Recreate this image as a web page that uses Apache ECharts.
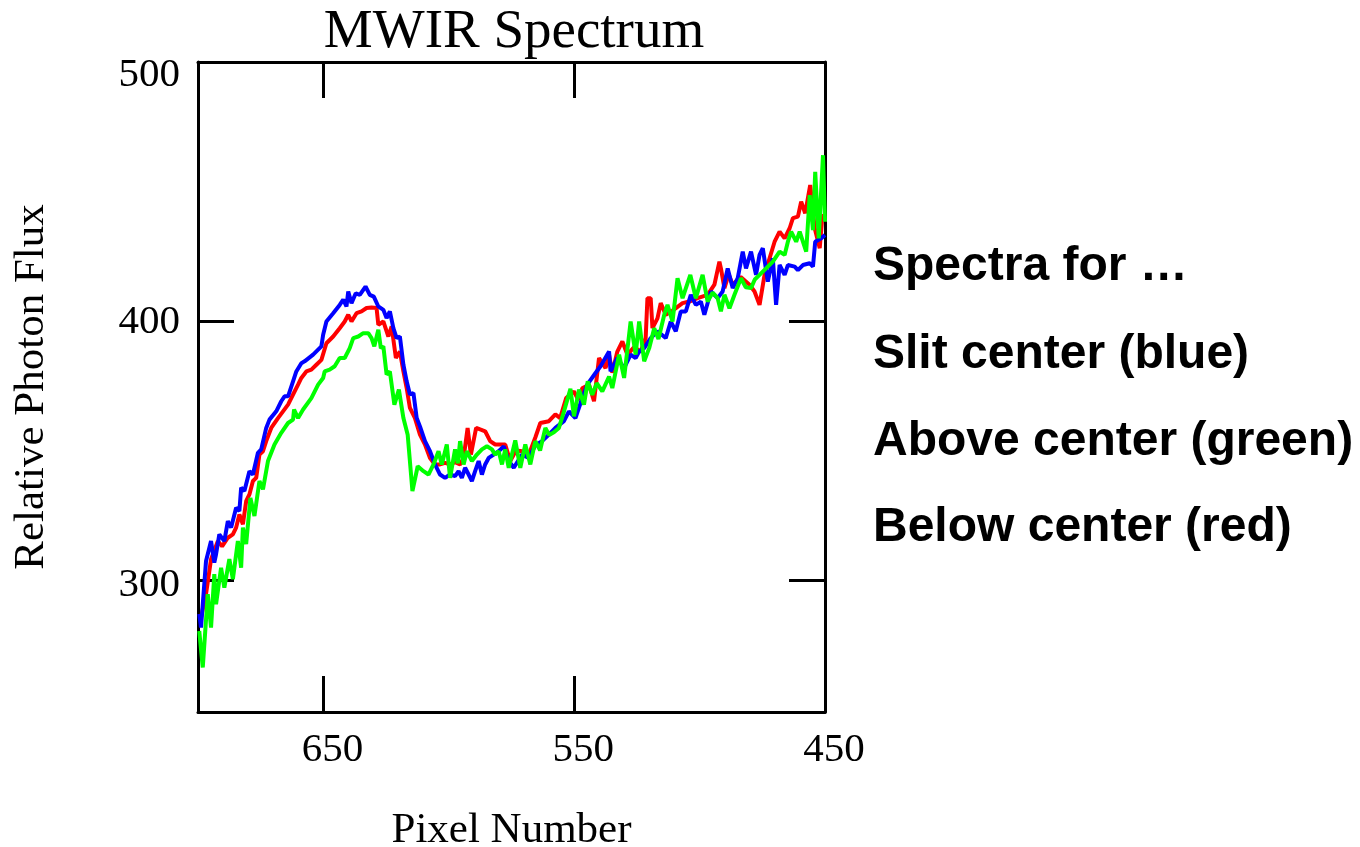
<!DOCTYPE html>
<html>
<head>
<meta charset="utf-8">
<style>
  html, body { margin: 0; padding: 0; background: #ffffff; }
  #chart { width: 1360px; height: 847px; }
</style>
<script src="https://cdn.jsdelivr.net/npm/echarts@6/dist/echarts.min.js"></script>
</head>
<body>
<div id="chart"></div>
<script>
// ---- Data (pixel number, relative photon flux) ----
const xTickValues = [650, 550, 450];
const yTickValues = [300, 400, 500];
const noteLines = ['Spectra for \u2026', 'Slit center (blue)', 'Above center (green)', 'Below center (red)'];

const blueX = [699.5,698.8,696.8,694.8,693.5,692.8,691.5,689.5,688.1,686.8,
  684.8,683.5,682.8,681.5,679.5,678.1,676.1,674.8,672.8,671.5,
  668.8,666.8,665.5,664.1,662.1,660.8,658.8,657.5,654.1,650.8,
  650.1,648.8,646.1,643.5,642.1,640.8,640.1,638.8,637.1,635.5,
  633.2,631.5,629.9,628.1,626.1,624.8,623.5,622.1,620.8,619.5,
  618.1,616.8,615.5,614.1,612.8,611.5,609.5,607.5,605.5,603.5,
  601.5,599.5,597.5,596.1,594.8,593.5,592.1,590.8,589.5,588.1,
  586.8,585.5,584.1,582.1,580.1,578.1,576.1,574.1,570.8,568.1,
  565.5,562.8,560.1,557.5,554.1,552.1,549.5,546.8,544.8,541.5,
  539.5,536.1,535.5,532.8,530.1,527.5,525.5,524.1,522.1,519.5,
  516.8,513.5,511.5,509.5,507.5,505.5,503.5,501.5,499.5,498.1,
  495.5,492.8,490.8,488.8,486.8,484.8,482.8,481.5,479.5,477.5,
  476.1,474.8,472.8,470.8,469.5,468.1,466.1,464.8,462.1,460.8,
  458.8,456.1,454.8,453.9,451.5,450];
const blueY = [286.8,281.6,307.3,315.0,306.7,309.9,317.6,315,322.7,320.2,
  327.9,326.6,335.6,334.3,342,340.7,349.1,350.4,358.7,361.9,
  365.1,369,370.9,370.9,376.7,380.5,383.7,384.4,387,390.2,
  394.7,399.8,403,406.2,408.2,405.6,411.4,406.9,410.7,410.1,
  413.3,410.1,409.4,405.6,404.3,401.1,403.7,397.2,393.4,394,
  383.1,376.7,371.6,372.2,362.5,359.3,353.6,349.7,344.6,340.7,
  339.4,340.7,340.1,342,339.4,343.3,340.7,338.2,342,345.9,
  340.7,344.6,347.1,348.4,349.7,351.6,345.9,343.3,348.4,347.1,
  352,353.6,356.1,358.7,361.3,365.1,362.5,370.2,375.4,379.9,
  382.5,388.2,380.5,385.7,381.8,387,385.7,388.2,389.5,393.4,
  396,393.4,399.8,396,403.7,403.7,410.1,406.2,407.5,402.4,
  411.4,408.8,411.4,420.3,412.7,416.5,426.8,420.3,426.8,417.8,
  425.5,428.1,415.2,424.2,406.2,421.6,417.8,421.6,421,419.6,
  421.6,422.3,421,430.6,431.9,433.2];

const redX = [698.8,696.8,694.8,692.1,690.4,688.1,686.1,684.8,683.5,682.1,
  680.8,679.5,678.1,676.8,675.5,674.1,672.8,670.8,668.1,666.1,
  664.1,662.1,660.1,658.8,656.8,654.8,652.8,650.8,648.8,646.1,
  643.5,641.5,640.1,638.8,636.8,634.8,632.8,630.8,628.8,628.1,
  626.1,624.1,622.8,621.1,619.5,618.1,616.8,615.5,613.5,611.5,
  609.5,607.5,605.5,603.5,601.5,599.5,597.5,595.5,594.1,592.5,
  591.2,589.1,587.5,585.5,583.5,581.5,579.5,577.5,575.5,573.2,
  570.8,568.1,565.5,563.5,560.1,557.5,555.6,553.2,550.1,548.4,
  546.8,544.1,542.1,540.1,537.5,536.1,534.8,532.8,530.8,528.8,
  526,523.6,521.5,520.8,519.5,518.8,516.8,515.5,513.5,510.8,
  506.8,504.1,500.8,496.8,494.1,492.1,491.5,490.1,488.4,486.8,
  483.6,480.1,478.1,476.1,474.1,472.1,470.1,468.1,466.1,464.1,
  462.8,460.8,459.5,457.9,455.9,454.1,452.1,451,450];
const redY = [285.5,294.6,308,315,313,316.3,317.6,320.2,325.3,321.5,
  330.4,333,338.2,339.4,348.4,349.7,353.6,358.7,362.5,365.1,
  367.7,371.6,375.4,378,380.5,381.2,383.1,385,391.4,394,
  397.2,399.8,402.4,399.8,403,403.7,405,405.2,405,398.5,
  399.8,394,397.9,385.7,388.2,380.5,374.1,366.4,362.5,356.1,
  352.3,347.1,344.6,344.6,345.2,344.6,345.5,344.6,347.1,358.7,
  348.4,358.7,358.1,357.4,353.6,352.3,352.3,352.3,345.9,350,
  349.7,348.4,355,360.6,361.3,363.9,362.5,370.2,372.8,369.5,
  374,375.4,369,385.7,381.8,386.9,380,388.2,392.1,387,
  390,388,393.4,408.8,408.8,397.2,401,406.9,402.4,404,
  406.9,407.5,408.8,410.1,414,422.9,420.3,412.7,418,414,
  417,414,411.4,406.2,417.8,424.2,430.6,434.5,431.9,435.8,
  439.7,440.3,446.1,441.6,452.5,435.8,428.1,441,439.7];

const greenX = [699.5,698.1,696.1,694.8,693.5,692.8,690.8,689.5,687.5,686.1,
  684.1,682.8,682.1,680.8,679.1,677.5,675.5,674.1,672.1,669.5,
  666.8,664.1,662.1,661.7,660.1,658.1,654.8,652.1,650.1,649.5,
  647.5,645.5,643.5,641.5,639.5,638.1,636.1,634.1,632.1,630.8,
  629.7,628.1,627.1,626.1,624.8,623.5,621.7,619.9,618.1,616.4,
  614.5,612.4,610.1,608.1,606.1,604.1,602.8,600.8,599.5,597.5,
  596.4,595.5,594.1,592.8,590.8,588.8,586.8,584.8,582.8,581.5,
  580.1,578.8,577.5,576.1,573.5,571.5,569.5,567.5,565.5,563.6,
  561.5,560,558.1,556.1,554.1,551.5,550.1,548.1,546.1,544.6,
  542.8,541,538.8,536.1,534.8,532.1,530.1,527.5,525.5,524.1,
  522.1,520.1,518.1,516.4,514.1,512.8,510.8,508.8,506.8,503.7,
  501.5,498.8,496.8,494.8,492.8,491.5,490.1,488.1,486.1,483.5,
  481.6,479.5,478,476.1,473.5,470.8,468.1,466.1,464.8,463.5,
  461.5,460.1,457.5,456.1,454.8,453.9,452.5,450.8,450];
const greenY = [280.3,266.2,294.5,281.6,302.2,290.6,304.7,297,308,300.3,
  315,304.7,320.2,313.8,331.7,324.7,338.2,335,345.9,352.3,
  356.8,360.6,361.9,365.8,362.5,365.8,370.2,375.4,378,380.5,
  381.2,382.5,385.7,385.7,389.5,393.4,394,395.3,395.3,393.4,
  390.2,396.6,389.5,390.2,379.3,380.5,367.7,373.5,362.5,356.1,
  334.3,343.9,342,340.7,344.6,349.7,344.6,352.3,339.4,350.4,
  345,353.6,344.6,349.7,345.9,348.4,350.4,351.6,350.4,348.4,
  349.7,344.6,350.4,343.3,353.9,343.3,352.3,344.6,353.6,350,
  358.7,356,357,358.7,365,373.8,363.2,373.5,367.7,376.7,
  371.5,376,372.8,378.5,374.1,387,378,399.8,387,399.8,
  384.4,389.5,397.2,393,402.4,406.2,399.8,416.5,408.8,417.8,
  408.8,417.8,407.5,411,408.8,403.7,410.1,404.9,410.1,416.5,
  413,412.7,416,417.8,420.3,422.9,426.8,425.5,430.6,434.5,
  430.6,434.5,426.8,448.6,435.1,457.6,431.9,464,438.3];

function pairs(xs, ys) { return xs.map((x, i) => [x, ys[i]]); }

const serif = "'Liberation Serif', 'Times New Roman', serif";
const axisLineStyle = { color: '#000', width: 3 };

const chart = echarts.init(document.getElementById('chart'), null, { renderer: 'canvas' });

const noteY = [270, 358, 445, 531];

chart.setOption({
  backgroundColor: '#ffffff',
  animation: false,
  title: {
    text: 'MWIR Spectrum',
    left: 509,
    textAlign: 'center',
    top: 0,
    textStyle: { fontFamily: serif, fontSize: 55, fontWeight: 'normal', color: '#000' }
  },
  grid: { left: 198, right: 535, top: 62, bottom: 135, containLabel: false, outerBoundsMode: 'none' },
  xAxis: [
    {
      type: 'value', position: 'bottom', inverse: true, min: 450, max: 700,
      name: 'Pixel Number', nameLocation: 'middle', nameGap: 97,
      nameTextStyle: { fontFamily: serif, fontSize: 43, color: '#000' },
      axisLine: { show: true, onZero: false, lineStyle: axisLineStyle },
      axisTick: { show: true, inside: true, length: 36, customValues: xTickValues, lineStyle: axisLineStyle },
      axisLabel: { show: true, customValues: xTickValues, fontFamily: serif, fontSize: 41, color: '#000', margin: 18, padding: [0, 0, 0, 18] },
      splitLine: { show: false }
    },
    {
      type: 'value', position: 'top', inverse: true, min: 450, max: 700,
      axisLine: { show: true, onZero: false, lineStyle: axisLineStyle },
      axisTick: { show: true, inside: true, length: 36, customValues: [650, 550], lineStyle: axisLineStyle },
      axisLabel: { show: false },
      splitLine: { show: false }
    }
  ],
  yAxis: [
    {
      type: 'value', position: 'left', min: 249, max: 500,
      name: 'Relative Photon Flux', nameLocation: 'middle', nameRotate: 90, nameGap: 145,
      nameTextStyle: { fontFamily: serif, fontSize: 43, color: '#000' },
      axisLine: { show: true, onZero: false, lineStyle: axisLineStyle },
      axisTick: { show: true, inside: true, length: 36, customValues: yTickValues, lineStyle: axisLineStyle },
      axisLabel: {
        show: true, customValues: yTickValues, fontFamily: serif, fontSize: 41, color: '#000', margin: 18,
        formatter: function (v) { return v === 500 ? '{t|500}' : (v === 300 ? '{b|300}' : '{m|' + v + '}'); },
        rich: {
          t: { fontFamily: serif, fontSize: 41, color: '#000', padding: [26, 0, 0, 0] },
          m: { fontFamily: serif, fontSize: 41, color: '#000', padding: [2, 0, 0, 0] },
          b: { fontFamily: serif, fontSize: 41, color: '#000', padding: [10, 0, 0, 0] }
        }
      },
      splitLine: { show: false }
    },
    {
      type: 'value', position: 'right', min: 249, max: 500,
      axisLine: { show: true, onZero: false, lineStyle: axisLineStyle },
      axisTick: { show: true, inside: true, length: 36, customValues: [300, 400], lineStyle: axisLineStyle },
      axisLabel: { show: false },
      splitLine: { show: false }
    }
  ],
  series: [
    { name: 'Below center (red)', type: 'line', xAxisIndex: 0, yAxisIndex: 0, data: pairs(redX, redY),
      showSymbol: false, lineStyle: { color: '#ff0000', width: 4 }, itemStyle: { color: '#ff0000' } },
    { name: 'Slit center (blue)', type: 'line', xAxisIndex: 0, yAxisIndex: 0, data: pairs(blueX, blueY),
      showSymbol: false, lineStyle: { color: '#0000ff', width: 4 }, itemStyle: { color: '#0000ff' } },
    { name: 'Above center (green)', type: 'line', xAxisIndex: 0, yAxisIndex: 0, data: pairs(greenX, greenY),
      showSymbol: false, lineStyle: { color: '#00ff00', width: 4 }, itemStyle: { color: '#00ff00' } }
  ],
  graphic: noteLines.map((t, i) => ({
    type: 'text', left: 873, top: noteY[i] - 27,
    style: { text: t, font: "bold 48px 'Liberation Sans', Arial, sans-serif", fill: '#000' }
  }))
});
</script>
</body>
</html>
